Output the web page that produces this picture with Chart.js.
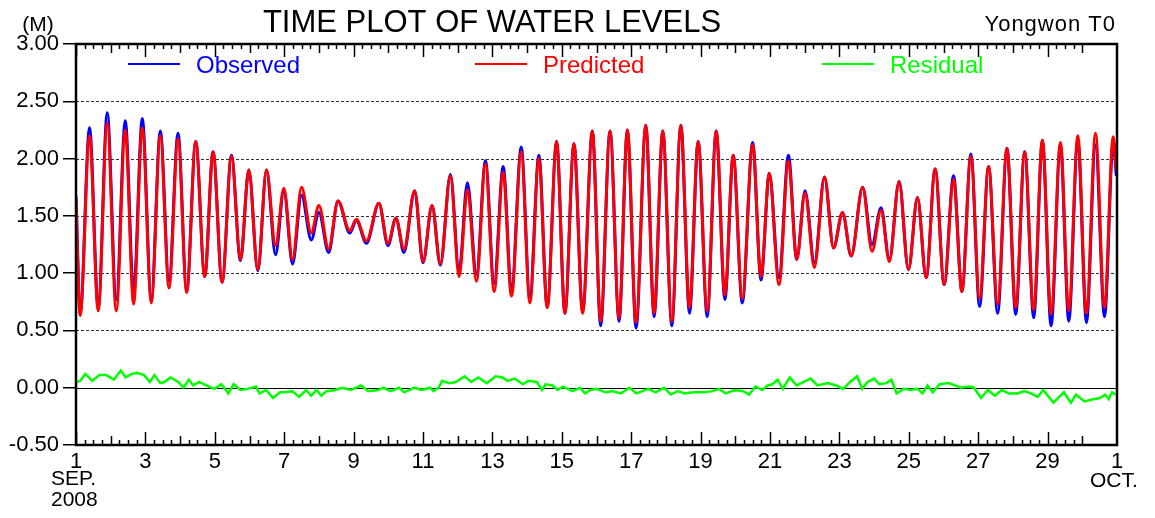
<!DOCTYPE html>
<html>
<head>
<meta charset="utf-8">
<title>TIME PLOT OF WATER LEVELS</title>
<script src="https://cdn.jsdelivr.net/npm/chart.js@4"></script>
<style>
  html, body { margin: 0; padding: 0; background: #fff; }
  canvas { display: block; }
</style>
</head>
<body>
<canvas id="tideChart" width="1155" height="518"></canvas>
<script>
// times are in days of September 2008 (1.0 = Sep 1 00:00, 31.0 = Oct 1 00:00)
const tideDays = [
  1.00, 1.12, 1.39, 1.64, 1.90, 2.16, 2.42, 2.66, 2.91, 3.17,
  3.43, 3.68, 3.94, 4.19, 4.45, 4.71, 4.95, 5.21, 5.48, 5.74,
  5.98, 6.24, 6.49, 6.75, 6.99, 7.24, 7.50, 7.78, 8.00, 8.28,
  8.55, 8.89, 9.08, 9.37, 9.73, 9.99, 10.22, 10.45, 10.76, 11.00,
  11.26, 11.50, 11.79, 12.04, 12.28, 12.54, 12.80, 13.05, 13.31, 13.55,
  13.83, 14.08, 14.34, 14.58, 14.85, 15.09, 15.35, 15.60, 15.88, 16.12,
  16.39, 16.65, 16.89, 17.14, 17.42, 17.66, 17.91, 18.17, 18.43, 18.68,
  18.93, 19.19, 19.45, 19.70, 19.94, 20.20, 20.50, 20.74, 20.98, 21.26,
  21.53, 21.77, 22.01, 22.28, 22.57, 22.83, 23.09, 23.34, 23.67, 23.94,
  24.20, 24.44, 24.72, 24.99, 25.25, 25.50, 25.76, 26.02, 26.29, 26.53,
  26.79, 27.04, 27.30, 27.56, 27.83, 28.08, 28.34, 28.60, 28.85, 29.10,
  29.37, 29.61, 29.87, 30.12, 30.38, 30.64, 30.89, 30.98
];

const observedLevel = [
  1.67, 0.65, 2.27, 0.70, 2.40, 0.77, 2.33, 0.83, 2.35, 0.77,
  2.24, 0.93, 2.22, 0.85, 2.15, 0.97, 2.06, 0.92, 2.03, 1.11,
  1.90, 1.02, 1.90, 1.16, 1.72, 1.08, 1.68, 1.29, 1.53, 1.18,
  1.63, 1.35, 1.46, 1.26, 1.61, 1.24, 1.48, 1.18, 1.72, 1.09,
  1.59, 1.07, 1.86, 1.02, 1.79, 0.99, 1.98, 0.91, 1.93, 0.84,
  2.10, 0.79, 2.03, 0.70, 2.15, 0.65, 2.13, 0.66, 2.24, 0.54,
  2.24, 0.58, 2.25, 0.52, 2.29, 0.62, 2.24, 0.54, 2.29, 0.65,
  2.15, 0.62, 2.24, 0.77, 2.03, 0.74, 2.14, 0.94, 1.87, 0.96,
  2.03, 1.12, 1.72, 1.09, 1.84, 1.22, 1.53, 1.15, 1.75, 1.25,
  1.57, 1.12, 1.80, 1.03, 1.66, 0.96, 1.91, 0.90, 1.85, 0.84,
  2.04, 0.71, 1.93, 0.65, 2.09, 0.64, 2.06, 0.61, 2.16, 0.54,
  2.12, 0.58, 2.16, 0.57, 2.12, 0.62, 2.14, 1.85
];

const predictedLevel = [
  1.63, 0.63, 2.20, 0.67, 2.31, 0.67, 2.25, 0.73, 2.27, 0.74,
  2.20, 0.87, 2.17, 0.83, 2.15, 0.97, 2.06, 0.92, 2.02, 1.12,
  1.90, 1.03, 1.90, 1.24, 1.74, 1.12, 1.75, 1.35, 1.59, 1.21,
  1.63, 1.37, 1.47, 1.28, 1.61, 1.26, 1.48, 1.21, 1.72, 1.10,
  1.59, 1.08, 1.85, 0.97, 1.73, 0.93, 1.95, 0.84, 1.88, 0.80,
  2.06, 0.74, 2.00, 0.70, 2.15, 0.65, 2.13, 0.65, 2.24, 0.58,
  2.24, 0.61, 2.25, 0.57, 2.29, 0.65, 2.24, 0.58, 2.29, 0.70,
  2.15, 0.67, 2.24, 0.81, 2.03, 0.78, 2.12, 0.97, 1.87, 0.90,
  1.98, 1.12, 1.70, 1.05, 1.84, 1.22, 1.53, 1.15, 1.75, 1.19,
  1.55, 1.10, 1.80, 1.03, 1.66, 0.96, 1.91, 0.90, 1.82, 0.84,
  2.02, 0.78, 1.93, 0.73, 2.09, 0.70, 2.06, 0.68, 2.16, 0.64,
  2.14, 0.67, 2.20, 0.65, 2.22, 0.70, 2.19, 1.90
];

const residualDays = [
  1.00, 1.12, 1.27, 1.47, 1.67, 1.87, 2.09, 2.29, 2.43, 2.61,
  2.76, 2.96, 3.13, 3.26, 3.43, 3.55, 3.72, 3.95, 4.10, 4.25,
  4.38, 4.55, 4.75, 4.99, 5.19, 5.39, 5.54, 5.74, 5.94, 6.19,
  6.29, 6.48, 6.68, 6.88, 7.03, 7.23, 7.43, 7.63, 7.78, 7.93,
  8.07, 8.22, 8.47, 8.67, 8.92, 9.22, 9.42, 9.71, 9.86, 10.06,
  10.31, 10.46, 10.75, 10.95, 11.20, 11.30, 11.45, 11.55, 11.75, 11.95,
  12.20, 12.39, 12.59, 12.84, 13.09, 13.29, 13.44, 13.64, 13.88, 14.03,
  14.28, 14.43, 14.53, 14.73, 14.88, 15.03, 15.32, 15.52, 15.67, 15.82,
  16.01, 16.26, 16.46, 16.70, 16.95, 17.15, 17.50, 17.70, 17.95, 18.14,
  18.34, 18.54, 18.79, 19.09, 19.34, 19.53, 19.73, 19.98, 20.23, 20.40,
  20.58, 20.78, 20.93, 21.07, 21.22, 21.37, 21.57, 21.77, 21.97, 22.17,
  22.37, 22.66, 22.91, 23.11, 23.31, 23.51, 23.66, 23.81, 24.00, 24.15,
  24.35, 24.50, 24.65, 24.85, 25.05, 25.25, 25.40, 25.54, 25.69, 25.89,
  26.14, 26.34, 26.49, 26.74, 26.88, 27.08, 27.28, 27.48, 27.68, 27.88,
  28.13, 28.33, 28.52, 28.72, 28.87, 29.17, 29.47, 29.67, 29.82, 30.06,
  30.31, 30.51, 30.66, 30.76, 30.86, 30.96
];

const residualLevel = [
  0.05, 0.06, 0.12, 0.06, 0.11, 0.11, 0.07, 0.15, 0.09, 0.12,
  0.13, 0.11, 0.05, 0.11, 0.04, 0.05, 0.09, 0.05, 0.00, 0.07,
  0.02, 0.05, 0.02, -0.01, 0.03, -0.05, 0.03, -0.02, -0.01, 0.01,
  -0.05, -0.02, -0.09, -0.04, -0.04, -0.03, -0.08, -0.02, -0.07, -0.02,
  -0.07, -0.03, -0.02, 0.00, -0.02, 0.02, -0.03, -0.02, 0.00, -0.03,
  0.00, -0.04, 0.00, -0.02, 0.00, -0.03, 0.00, 0.06, 0.04, 0.05,
  0.10, 0.05, 0.09, 0.04, 0.10, 0.09, 0.06, 0.08, 0.03, 0.06,
  0.05, -0.02, 0.03, 0.02, -0.02, 0.01, -0.03, 0.00, -0.05, -0.02,
  -0.01, -0.04, -0.03, -0.05, 0.00, -0.05, -0.01, -0.04, 0.00, -0.06,
  -0.03, -0.05, -0.04, -0.04, -0.03, -0.01, -0.05, -0.02, -0.03, -0.06,
  0.01, -0.02, 0.02, 0.03, 0.07, -0.01, 0.09, 0.02, 0.05, 0.08,
  0.02, 0.04, 0.02, -0.01, 0.05, 0.10, -0.01, 0.05, 0.08, 0.03,
  0.04, 0.07, -0.05, -0.01, -0.02, -0.01, -0.05, 0.02, -0.04, 0.03,
  0.04, 0.02, 0.00, 0.01, 0.00, -0.09, -0.02, -0.07, -0.02, -0.05,
  -0.05, -0.03, -0.05, -0.08, -0.02, -0.13, -0.04, -0.13, -0.06, -0.12,
  -0.10, -0.09, -0.06, -0.10, -0.04, -0.06
];

const gridLevels = [0.5, 1.0, 1.5, 2.0, 2.5];
const legendItems = [
  { label: 'Observed', color: '#0000ff', x0: 128, x1: 180 },
  { label: 'Predicted', color: '#ff0000', x0: 475, x1: 527 },
  { label: 'Residual', color: '#00ff00', x0: 822, x1: 874 }
];

const FONT = '"Liberation Sans", Arial, Helvetica, sans-serif';

function toPoints(days, values) {
  return days.map((d, i) => ({ x: d, y: values[i] }));
}

// grid lines, zero line, frame, inner ticks and the loose texts
const decorPlugin = {
  id: 'decor',
  beforeDatasetsDraw(chart) {
    const { ctx, chartArea: a, scales: { y } } = chart;
    ctx.save();
    ctx.lineWidth = 1;
    ctx.strokeStyle = '#333';
    ctx.setLineDash([3, 2]);
    gridLevels.forEach(v => {
      const py = Math.round(y.getPixelForValue(v)) + 0.5;
      ctx.beginPath();
      ctx.moveTo(a.left, py);
      ctx.lineTo(a.right, py);
      ctx.stroke();
    });
    ctx.setLineDash([]);
    ctx.strokeStyle = '#000';
    const z = Math.round(y.getPixelForValue(0)) + 0.5;
    ctx.beginPath();
    ctx.moveTo(a.left, z);
    ctx.lineTo(a.right, z);
    ctx.stroke();
    ctx.restore();
  },
  afterDraw(chart) {
    const { ctx, chartArea: a, scales: { x } } = chart;
    ctx.save();

    // ticks along top and bottom, pointing inwards (every 6 hours)
    ctx.strokeStyle = '#000';
    ctx.lineWidth = 1.5;
    for (let q = 4; q <= 120; q++) {
      const t = q / 4;
      const px = Math.round(x.getPixelForValue(t)) + 0.5;
      let len = 5;
      if (q % 4 === 0) len = (t % 2 === 1) ? 13 : 9;
      ctx.beginPath();
      ctx.moveTo(px, a.top);
      ctx.lineTo(px, a.top + len);
      ctx.moveTo(px, a.bottom);
      ctx.lineTo(px, a.bottom - len);
      ctx.stroke();
    }

    // frame
    ctx.lineWidth = 2.5;
    ctx.strokeRect(a.left, a.top, a.right - a.left, a.bottom - a.top);

    // texts
    ctx.fillStyle = '#000';
    ctx.textBaseline = 'alphabetic';
    ctx.font = '31px ' + FONT;
    ctx.textAlign = 'center';
    ctx.fillText('TIME PLOT OF WATER LEVELS', 492, 32);

    ctx.font = '21px ' + FONT;
    ctx.fillText('(M)', 38, 31);

    ctx.textAlign = 'right';
    ctx.font = '22px ' + FONT;
    ctx.letterSpacing = '1px';
    ctx.fillText('Yongwon T0', 1116, 31);
    ctx.letterSpacing = '0px';

    ctx.textAlign = 'left';
    ctx.font = '21px ' + FONT;
    ctx.fillText('SEP.', 51, 485);
    ctx.fillText('2008', 51, 506);
    ctx.fillText('OCT.', 1090, 487);

    // legend inside the plot
    ctx.font = '24px ' + FONT;
    legendItems.forEach(it => {
      ctx.strokeStyle = it.color;
      ctx.lineWidth = 2;
      ctx.beginPath();
      ctx.moveTo(it.x0, 64);
      ctx.lineTo(it.x1, 64);
      ctx.stroke();
      ctx.fillStyle = it.color;
      ctx.fillText(it.label, it.x1 + 16, 73);
    });

    ctx.restore();
  }
};

const ctx = document.getElementById('tideChart').getContext('2d');

const tideChart = new Chart(ctx, {
  type: 'line',
  data: {
    datasets: [
      {
        label: 'Observed',
        data: toPoints(tideDays, observedLevel),
        borderColor: '#0000ff',
        borderWidth: 3,
        pointRadius: 0,
        cubicInterpolationMode: 'monotone',
        order: 3
      },
      {
        label: 'Predicted',
        data: toPoints(tideDays, predictedLevel),
        borderColor: '#ff0000',
        borderWidth: 3,
        pointRadius: 0,
        cubicInterpolationMode: 'monotone',
        order: 2
      },
      {
        label: 'Residual',
        data: toPoints(residualDays, residualLevel),
        borderColor: '#00ff00',
        borderWidth: 2.5,
        pointRadius: 0,
        tension: 0,
        order: 1
      }
    ]
  },
  options: {
    responsive: false,
    animation: false,
    events: [],
    layout: { padding: { top: 44, right: 38, left: 0, bottom: 0 } },
    plugins: {
      legend: { display: false },
      title: { display: false },
      tooltip: { enabled: false }
    },
    scales: {
      x: {
        type: 'linear',
        min: 1,
        max: 31,
        grid: { display: false },
        border: { display: false },
        ticks: {
          stepSize: 2,
          autoSkip: false,
          maxRotation: 0,
          padding: -4,
          color: '#000',
          font: { size: 22, family: FONT },
          callback: function (value) {
            return value === 31 ? '1' : String(value);
          }
        },
        afterFit: function (scale) { scale.height = 73; }
      },
      y: {
        min: -0.5,
        max: 3,
        grid: {
          drawOnChartArea: false,
          drawTicks: true,
          tickLength: 13,
          color: '#000',
          lineWidth: 1.5
        },
        border: { display: false },
        ticks: {
          stepSize: 0.5,
          padding: 4,
          color: '#000',
          font: { size: 22, family: FONT },
          callback: function (value) { return value.toFixed(2); }
        },
        afterFit: function (scale) { scale.width = 76; }
      }
    }
  },
  plugins: [decorPlugin]
});
</script>
</body>
</html>
